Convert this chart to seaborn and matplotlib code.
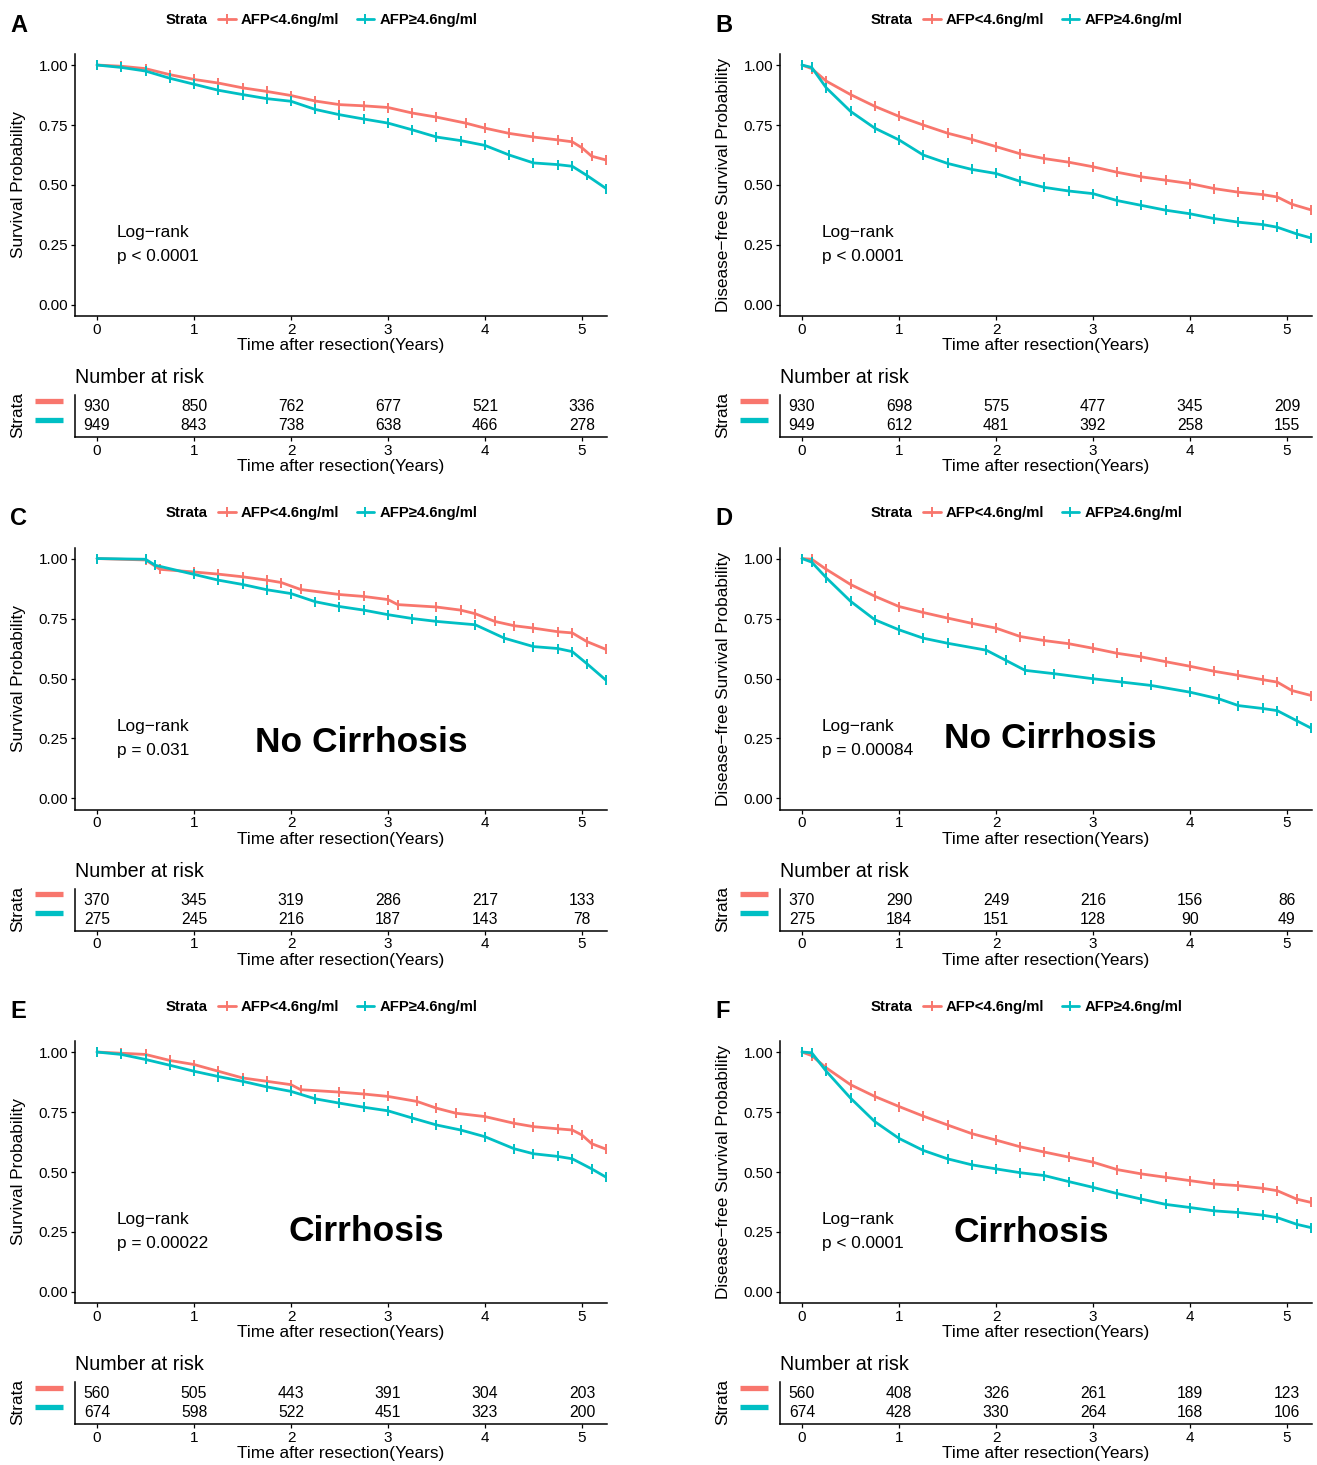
import numpy as np
import pandas as pd
import seaborn as sns
import matplotlib.pyplot as plt
import matplotlib.transforms as mtransforms

#### Kaplan-Meier curves (OS / DFS) by AFP strata, all patients / no cirrhosis / cirrhosis
# survival values

sns.set_style('ticks')
plt.rcParams['font.family'] = ['Liberation Sans', 'DejaVu Sans']
for k in ['text.color', 'axes.labelcolor', 'xtick.color', 'ytick.color', 'axes.edgecolor']:
    plt.rcParams[k] = 'black'

lab_low = 'AFP<4.6ng/ml'
lab_high = 'AFP\u22654.6ng/ml'
red, teal = '#F8766D', '#00BFC4'

# panel A: overall survival, all patients
A_low_t = [0, 0.25, 0.5, 0.75, 1.0, 1.25, 1.5, 1.75, 2.0, 2.25, 2.5, 2.75, 3.0, 3.25, 3.5, 3.8, 4.0, 4.25, 4.5, 4.75, 4.9, 5.0, 5.1, 5.25]
A_low_s = [1.0, 0.995, 0.985, 0.96, 0.94, 0.925, 0.905, 0.89, 0.873, 0.85, 0.835, 0.83, 0.823, 0.80, 0.783, 0.758, 0.737, 0.715, 0.70, 0.688, 0.68, 0.655, 0.62, 0.604]
A_high_t = [0, 0.25, 0.5, 0.75, 1.0, 1.25, 1.5, 1.75, 2.0, 2.25, 2.5, 2.75, 3.0, 3.25, 3.5, 3.75, 4.0, 4.25, 4.5, 4.75, 4.9, 5.05, 5.25]
A_high_s = [1.0, 0.99, 0.975, 0.945, 0.92, 0.895, 0.877, 0.86, 0.849, 0.815, 0.793, 0.775, 0.758, 0.73, 0.70, 0.685, 0.665, 0.625, 0.592, 0.585, 0.578, 0.54, 0.485]

# panel B: disease-free survival, all patients
B_low_t = [0, 0.1, 0.25, 0.5, 0.75, 1.0, 1.25, 1.5, 1.75, 2.0, 2.25, 2.5, 2.75, 3.0, 3.25, 3.5, 3.75, 4.0, 4.25, 4.5, 4.75, 4.9, 5.05, 5.25]
B_low_s = [1.0, 0.985, 0.933, 0.877, 0.828, 0.786, 0.75, 0.716, 0.69, 0.66, 0.63, 0.61, 0.595, 0.576, 0.553, 0.534, 0.52, 0.506, 0.485, 0.47, 0.46, 0.45, 0.42, 0.396]
B_high_t = [0, 0.1, 0.25, 0.5, 0.75, 1.0, 1.25, 1.5, 1.75, 2.0, 2.25, 2.5, 2.75, 3.0, 3.25, 3.5, 3.75, 4.0, 4.25, 4.5, 4.75, 4.9, 5.1, 5.25]
B_high_s = [1.0, 0.99, 0.905, 0.807, 0.737, 0.688, 0.625, 0.59, 0.565, 0.548, 0.515, 0.49, 0.475, 0.464, 0.435, 0.415, 0.395, 0.38, 0.36, 0.345, 0.335, 0.324, 0.296, 0.279]

# panel C: overall survival, no cirrhosis
C_low_t = [0, 0.5, 0.65, 1.0, 1.25, 1.5, 1.75, 1.9, 2.1, 2.5, 2.75, 3.0, 3.1, 3.5, 3.75, 3.9, 4.1, 4.3, 4.5, 4.75, 4.9, 5.05, 5.25]
C_low_s = [1.0, 0.994, 0.955, 0.944, 0.935, 0.924, 0.91, 0.90, 0.871, 0.85, 0.842, 0.829, 0.808, 0.798, 0.785, 0.77, 0.738, 0.72, 0.71, 0.695, 0.69, 0.654, 0.621]
C_high_t = [0, 0.5, 0.6, 1.0, 1.25, 1.5, 1.75, 2.0, 2.25, 2.5, 2.75, 3.0, 3.25, 3.5, 3.9, 4.2, 4.5, 4.75, 4.9, 5.05, 5.25]
C_high_s = [1.0, 0.997, 0.972, 0.934, 0.91, 0.892, 0.87, 0.854, 0.82, 0.80, 0.785, 0.766, 0.75, 0.738, 0.724, 0.668, 0.633, 0.625, 0.612, 0.562, 0.492]

# panel D: disease-free survival, no cirrhosis
D_low_t = [0, 0.1, 0.25, 0.5, 0.75, 1.0, 1.25, 1.5, 1.75, 2.0, 2.25, 2.5, 2.75, 3.0, 3.25, 3.5, 3.75, 4.0, 4.25, 4.5, 4.75, 4.9, 5.05, 5.25]
D_low_s = [1.0, 0.997, 0.955, 0.892, 0.843, 0.80, 0.775, 0.752, 0.73, 0.71, 0.675, 0.658, 0.645, 0.626, 0.605, 0.59, 0.57, 0.551, 0.53, 0.513, 0.495, 0.485, 0.45, 0.429]
D_high_t = [0, 0.1, 0.25, 0.5, 0.75, 1.0, 1.25, 1.5, 1.9, 2.1, 2.3, 2.6, 3.0, 3.3, 3.6, 4.0, 4.3, 4.5, 4.75, 4.9, 5.1, 5.25]
D_high_s = [1.0, 0.985, 0.92, 0.822, 0.745, 0.703, 0.668, 0.647, 0.618, 0.576, 0.534, 0.52, 0.499, 0.485, 0.471, 0.443, 0.415, 0.387, 0.375, 0.366, 0.324, 0.293]

# panel E: overall survival, cirrhosis
E_low_t = [0, 0.25, 0.5, 0.75, 1.0, 1.25, 1.5, 1.75, 2.0, 2.1, 2.5, 2.75, 3.0, 3.3, 3.5, 3.7, 4.0, 4.3, 4.5, 4.75, 4.9, 5.0, 5.1, 5.25]
E_low_s = [1.0, 0.995, 0.99, 0.965, 0.948, 0.92, 0.892, 0.878, 0.864, 0.843, 0.833, 0.825, 0.815, 0.794, 0.766, 0.745, 0.731, 0.703, 0.689, 0.68, 0.675, 0.654, 0.618, 0.595]
E_high_t = [0, 0.25, 0.5, 0.75, 1.0, 1.25, 1.5, 1.75, 2.0, 2.25, 2.5, 2.75, 3.0, 3.25, 3.5, 3.75, 4.0, 4.3, 4.5, 4.75, 4.9, 5.1, 5.25]
E_high_s = [1.0, 0.99, 0.969, 0.945, 0.92, 0.898, 0.878, 0.855, 0.836, 0.805, 0.787, 0.77, 0.755, 0.725, 0.696, 0.675, 0.647, 0.597, 0.576, 0.565, 0.555, 0.513, 0.478]

# panel F: disease-free survival, cirrhosis
F_low_t = [0, 0.1, 0.25, 0.5, 0.75, 1.0, 1.25, 1.5, 1.75, 2.0, 2.25, 2.5, 2.75, 3.0, 3.25, 3.5, 3.75, 4.0, 4.25, 4.5, 4.75, 4.9, 5.1, 5.25]
F_low_s = [1.0, 0.985, 0.934, 0.864, 0.815, 0.773, 0.733, 0.696, 0.66, 0.633, 0.605, 0.583, 0.562, 0.541, 0.51, 0.492, 0.478, 0.464, 0.45, 0.443, 0.432, 0.422, 0.387, 0.373]
F_high_t = [0, 0.1, 0.25, 0.5, 0.75, 1.0, 1.25, 1.5, 1.75, 2.0, 2.25, 2.5, 2.75, 3.0, 3.25, 3.5, 3.75, 4.0, 4.25, 4.5, 4.75, 4.9, 5.1, 5.25]
F_high_s = [1.0, 0.997, 0.92, 0.808, 0.71, 0.64, 0.59, 0.555, 0.53, 0.513, 0.497, 0.485, 0.46, 0.436, 0.41, 0.387, 0.365, 0.352, 0.338, 0.331, 0.32, 0.31, 0.282, 0.268]

# number at risk at years 0..5
risk_times = [0, 1, 2, 3, 4, 5]
A_risk_low = [930, 850, 762, 677, 521, 336]
A_risk_high = [949, 843, 738, 638, 466, 278]
B_risk_low = [930, 698, 575, 477, 345, 209]
B_risk_high = [949, 612, 481, 392, 258, 155]
C_risk_low = [370, 345, 319, 286, 217, 133]
C_risk_high = [275, 245, 216, 187, 143, 78]
D_risk_low = [370, 290, 249, 216, 156, 86]
D_risk_high = [275, 184, 151, 128, 90, 49]
E_risk_low = [560, 505, 443, 391, 304, 203]
E_risk_high = [674, 598, 522, 451, 323, 200]
F_risk_low = [560, 408, 326, 261, 189, 123]
F_risk_high = [674, 428, 330, 264, 168, 106]

panel_letters = ['A', 'B', 'C', 'D', 'E', 'F']
ylabels = ['Survival Probability', 'Disease\u2212free Survival Probability'] * 3
pvals = ['p < 0.0001', 'p < 0.0001', 'p = 0.031', 'p = 0.00084', 'p = 0.00022', 'p < 0.0001']
subsets = ['', '', 'No Cirrhosis', 'No Cirrhosis', 'Cirrhosis', 'Cirrhosis']
subset_pos = [None, None, (2.72, 0.234), (2.56, 0.251), (2.78, 0.251), (2.36, 0.247)]

curves = [(A_low_t, A_low_s, A_high_t, A_high_s), (B_low_t, B_low_s, B_high_t, B_high_s),
          (C_low_t, C_low_s, C_high_t, C_high_s), (D_low_t, D_low_s, D_high_t, D_high_s),
          (E_low_t, E_low_s, E_high_t, E_high_s), (F_low_t, F_low_s, F_high_t, F_high_s)]
risks = [(A_risk_low, A_risk_high), (B_risk_low, B_risk_high), (C_risk_low, C_risk_high),
         (D_risk_low, D_risk_high), (E_risk_low, E_risk_high), (F_risk_low, F_risk_high)]

W, H = 1317, 1465
col_x = [0, 705]
row_y = [0, 493.5, 987]
xlim = (-0.227, 5.258)
xlab = 'Time after resection(Years)'


def fbox(l, t, r, b):
    return [l / W, 1 - b / H, (r - l) / W, (b - t) / H]


fig = plt.figure(figsize=(W / 100, H / 100), dpi=100)

for i in range(6):
    dx = col_x[i % 2]
    dy = row_y[i // 2]
    lt, ls, ht, hs = curves[i]
    df = pd.concat([pd.DataFrame({'time': lt, 'surv': ls, 'strata': lab_low}),
                    pd.DataFrame({'time': ht, 'surv': hs, 'strata': lab_high})])

    # survival curves
    ax = fig.add_axes(fbox(75 + dx, 54 + dy, 607 + dx, 316 + dy))
    sns.lineplot(data=df, x='time', y='surv', hue='strata', palette=[red, teal],
                 estimator=None, sort=False, legend=False, ax=ax,
                 linewidth=2.0, marker='|', markersize=6.5, markeredgewidth=1.4)
    for ln in ax.lines:
        ln.set_markeredgecolor(ln.get_color())
    ax.set_xlim(*xlim)
    ax.set_ylim(-0.046, 1.046)
    ax.set_xticks(range(6))
    ax.set_yticks([0, 0.25, 0.5, 0.75, 1.0])
    ax.set_yticklabels(['0.00', '0.25', '0.50', '0.75', '1.00'])
    ax.tick_params(labelsize=11, length=3, width=0.9, pad=2, colors='black')
    ax.set_xlabel(xlab, fontsize=12.4, labelpad=1)
    ax.set_ylabel('')
    ax.text(-0.107, 0.5, ylabels[i], transform=ax.transAxes, rotation=90,
            ha='center', va='center', fontsize=12.4)
    sns.despine(ax=ax)
    for s in ['left', 'bottom']:
        ax.spines[s].set_linewidth(1.1)
        ax.spines[s].set_color('black')

    ax.text(0.206, 0.301, 'Log\u2212rank', ha='left', va='center', fontsize=12.4)
    ax.text(0.206, 0.200, pvals[i], ha='left', va='center', fontsize=12.4)
    if subsets[i]:
        ax.text(*subset_pos[i], subsets[i], ha='center', va='center',
                fontsize=25.5, fontweight='bold', color='black')

    # legend on top
    leg = ax.legend(handles=ax.lines[:2], labels=[lab_low, lab_high], ncol=2,
                    loc='center left', bbox_to_anchor=((218 + dx) / W, 1 - (20 + dy) / H),
                    bbox_transform=fig.transFigure, frameon=False, handlelength=1.2,
                    handletextpad=0.35, columnspacing=1.15, borderpad=0, borderaxespad=0,
                    prop={'weight': 'bold', 'size': 10.7})
    fig.text((166 + dx) / W, 1 - (20 + dy) / H, 'Strata', ha='left', va='center',
             fontsize=10.7, fontweight='bold')
    fig.text((10 + dx) / W, 1 - (25 + dy) / H, panel_letters[i], ha='left', va='center',
             fontsize=17, fontweight='bold')

    # risk table
    tab = fig.add_axes(fbox(75 + dx, 395 + dy, 607 + dx, 437 + dy))
    tab.set_xlim(*xlim)
    tab.set_ylim(-0.58, 1.63)
    n_low, n_high = risks[i]
    for t, a, b in zip(risk_times, n_low, n_high):
        tab.text(t, 1, str(a), ha='center', va='center', fontsize=11.3)
        tab.text(t, 0, str(b), ha='center', va='center', fontsize=11.3)
    tab.set_yticks([])
    tab.set_xticks(range(6))
    tab.tick_params(labelsize=11, length=3, width=0.9, pad=2, colors='black')
    tab.set_xlabel(xlab, fontsize=12.4, labelpad=1)
    sns.despine(ax=tab)
    for s in ['left', 'bottom']:
        tab.spines[s].set_linewidth(1.1)
        tab.spines[s].set_color('black')
    trans = mtransforms.blended_transform_factory(tab.transAxes, tab.transData)
    tab.plot([-0.075, -0.022], [1.32, 1.32], color=red, lw=3.8, transform=trans,
             clip_on=False, solid_capstyle='butt')
    tab.plot([-0.075, -0.022], [0.32, 0.32], color=teal, lw=3.8, transform=trans,
             clip_on=False, solid_capstyle='butt')
    tab.text(-0.107, 0.52, 'Strata', transform=tab.transAxes, rotation=90,
             ha='center', va='center', fontsize=12.4)
    tab.text(0.0, 1.405, 'Number at risk', transform=tab.transAxes, ha='left',
             va='center', fontsize=14.2)

fig.savefig('out.png', dpi=100)
print('fin')
